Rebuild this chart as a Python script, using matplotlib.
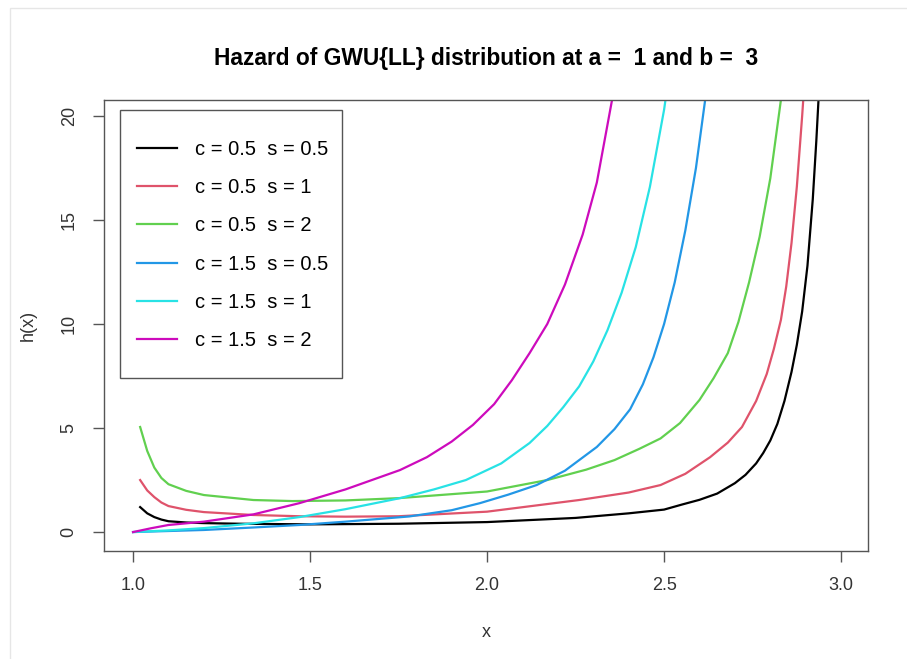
import numpy as np
import matplotlib
matplotlib.use("Agg")
from matplotlib import pyplot as plt
from matplotlib.patches import Rectangle

plt.rcParams['font.family'] = ['Liberation Sans', 'DejaVu Sans']

# values
labels = ['c = 0.5  s = 0.5', 'c = 0.5  s = 1', 'c = 0.5  s = 2',
          'c = 1.5  s = 0.5', 'c = 1.5  s = 1', 'c = 1.5  s = 2']
colors = ['#000000', '#DF536B', '#61D04F', '#2297E6', '#28E2E5', '#CD0BBC']

x_black = [1.02, 1.04, 1.06, 1.08, 1.10, 1.15, 1.20, 1.30, 1.50, 1.75, 2.00,
           2.25, 2.40, 2.50, 2.55, 2.60, 2.65, 2.70, 2.73, 2.76, 2.78, 2.80,
           2.82, 2.84, 2.86, 2.875, 2.89, 2.905, 2.92, 2.93, 2.94]
h_black = [1.2, 0.9, 0.72, 0.6, 0.52, 0.46, 0.43, 0.40, 0.37, 0.40, 0.48,
           0.68, 0.9, 1.08, 1.32, 1.55, 1.85, 2.35, 2.75, 3.3, 3.8, 4.4,
           5.2, 6.3, 7.7, 9.0, 10.6, 12.8, 16.0, 18.8, 22.0]

x_pink = [1.02, 1.04, 1.06, 1.08, 1.10, 1.15, 1.20, 1.34, 1.47, 1.60, 1.75,
          2.00, 2.26, 2.40, 2.49, 2.56, 2.63, 2.68, 2.72, 2.76, 2.79, 2.81,
          2.83, 2.845, 2.86, 2.875, 2.89, 2.90]
h_pink = [2.5, 2.0, 1.68, 1.42, 1.25, 1.07, 0.96, 0.82, 0.76, 0.74, 0.76,
          0.98, 1.54, 1.9, 2.26, 2.8, 3.6, 4.3, 5.05, 6.3, 7.6, 8.8,
          10.2, 11.8, 13.9, 16.6, 20.0, 22.5]

x_green = [1.02, 1.04, 1.06, 1.08, 1.10, 1.15, 1.20, 1.34, 1.45, 1.60, 1.75,
           2.00, 2.17, 2.28, 2.36, 2.43, 2.49, 2.545, 2.60, 2.64, 2.68, 2.71,
           2.74, 2.77, 2.80, 2.83, 2.84]
h_green = [5.05, 3.9, 3.1, 2.6, 2.3, 1.98, 1.78, 1.54, 1.49, 1.52, 1.63,
           1.95, 2.5, 3.0, 3.46, 4.0, 4.5, 5.24, 6.35, 7.4, 8.6, 10.1,
           12.0, 14.2, 17.0, 20.77, 22.0]

x_blue = [1.00, 1.10, 1.20, 1.34, 1.47, 1.60, 1.78, 1.90, 1.98, 2.06, 2.14,
          2.22, 2.31, 2.36, 2.404, 2.44, 2.47, 2.50, 2.53, 2.56, 2.59, 2.616,
          2.625]
h_blue = [0.0, 0.05, 0.1, 0.22, 0.34, 0.5, 0.75, 1.05, 1.39, 1.8, 2.26,
          2.95, 4.09, 4.95, 5.9, 7.1, 8.4, 10.0, 12.0, 14.5, 17.5, 20.77,
          21.9]

x_cyan = [1.00, 1.10, 1.20, 1.34, 1.47, 1.60, 1.754, 1.85, 1.94, 2.04, 2.12,
          2.17, 2.215, 2.26, 2.30, 2.34, 2.38, 2.42, 2.46, 2.50, 2.51]
h_cyan = [0.0, 0.08, 0.19, 0.42, 0.72, 1.1, 1.63, 2.05, 2.5, 3.3, 4.28,
          5.1, 6.0, 7.0, 8.2, 9.7, 11.5, 13.7, 16.6, 20.3, 21.5]

x_mag = [1.00, 1.05, 1.10, 1.20, 1.34, 1.47, 1.60, 1.754, 1.83, 1.90, 1.96,
         2.02, 2.07, 2.12, 2.17, 2.22, 2.27, 2.31, 2.353, 2.36]
h_mag = [0.0, 0.18, 0.34, 0.5, 0.85, 1.39, 2.05, 2.98, 3.6, 4.35, 5.15,
         6.15, 7.3, 8.6, 10.0, 11.9, 14.3, 16.8, 20.77, 21.6]

xs = [x_black, x_pink, x_green, x_blue, x_cyan, x_mag]
hs = [h_black, h_pink, h_green, h_blue, h_cyan, h_mag]

fig = plt.figure(figsize=(9.07, 6.59), dpi=100)
ax = fig.add_axes([0.1147, 0.1639, 0.8423, 0.6844])

# faint screenshot frame
fig.patches.append(Rectangle((0.011, -0.01), 0.995, 0.998, transform=fig.transFigure,
                             fill=False, edgecolor='#e6e6e6', linewidth=1))

for x, h, c, lab in zip(xs, hs, colors, labels):
    ax.plot(x, h, color=c, lw=1.6, label=lab, solid_joinstyle='round')

ax.set_xlim(0.918, 3.076)
ax.set_ylim(-0.91, 20.77)
ax.set_xticks([1.0, 1.5, 2.0, 2.5, 3.0])
ax.set_yticks([0, 5, 10, 15, 20])
for sp in ax.spines.values():
    sp.set_color('#555555')
    sp.set_linewidth(1.0)
ax.tick_params(length=8, width=1, color='#555555', labelsize=13,
               labelcolor='#333333', pad=11)
plt.setp(ax.get_yticklabels(), rotation=90, va='center')

ax.set_xlabel('x', fontsize=13, color='#333333', labelpad=21)
ax.set_ylabel('h(x)', fontsize=13, color='#333333', labelpad=17)
ax.set_title('Hazard of GWU{LL} distribution at a =  1 and b =  3',
             fontsize=16.4, fontweight='bold', pad=25)

# legend box drawn as a frame, entries centred inside it
ax.add_patch(Rectangle((0.0209, 0.3836), 0.2906, 0.5942, transform=ax.transAxes,
                       facecolor='white', edgecolor='#555555', linewidth=1.0,
                       zorder=4))
leg = ax.legend(loc='center', bbox_to_anchor=(0.1685, 0.6785),
                frameon=False, borderpad=0, fontsize=14.5,
                handlelength=1.95, handletextpad=0.9, labelspacing=0.96)
leg.set_zorder(5)

fig.savefig('out.png', dpi=100)
